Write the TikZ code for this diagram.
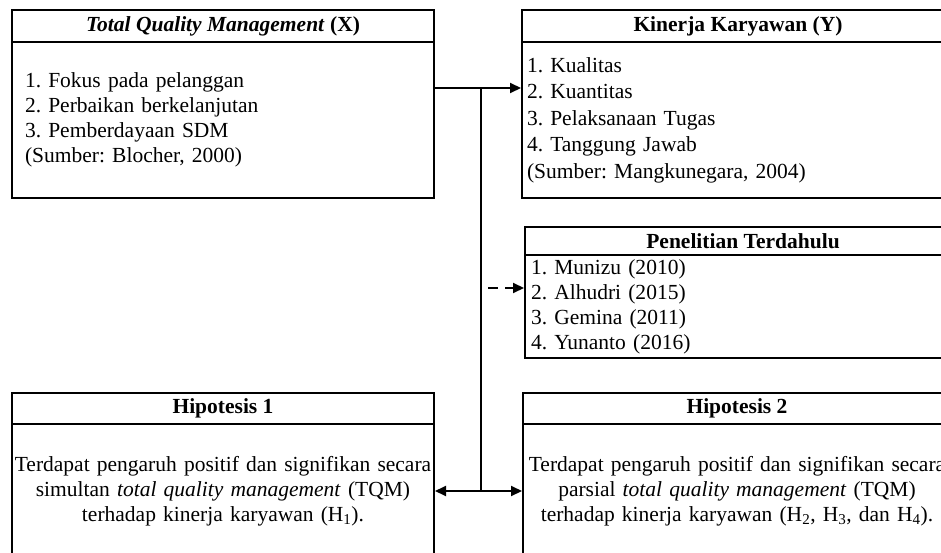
\documentclass[tikz,border=0pt]{standalone}
\usepackage{fontspec}
\setmainfont{Liberation Serif}
\usetikzlibrary{arrows.meta}
\frenchspacing

\begin{document}
\begin{tikzpicture}[x=1pt, y=-1pt, line width=2pt,
    head/.style={draw, minimum height=32pt, inner sep=0pt, font=\fontsize{21.5}{25}\selectfont\bfseries},
    body/.style={draw, inner ysep=0pt, font=\fontsize{21.5}{25}\selectfont},
    link/.style={-{Triangle[length=11pt,width=10pt]}},
    link2/.style={{Triangle[length=11pt,width=10pt]}-{Triangle[length=11pt,width=10pt]}}]
    \clip (0,0) rectangle (941,553);

    % variabel X dan Y
    \node[head, minimum width=422pt] (tqmhead) at (223,26) {\textit{Total Quality Management} (X)};
    \node[body, minimum height=156pt, inner xsep=13pt, text width=396pt, align=left] (tqm) at (223,120)
        {1. Fokus pada pelanggan\\2. Perbaikan berkelanjutan\\3. Pemberdayaan SDM\\(Sumber: Blocher, 2000)};
    \node[head, minimum width=432pt] (kinhead) at (738,26) {Kinerja Karyawan (Y)};
    \node[body, minimum height=156pt, inner xsep=5pt, text width=422pt, align=left,
        font=\fontsize{21.5}{26.5}\selectfont] (kin) at (738,120)
        {1. Kualitas\\2. Kuantitas\\3. Pelaksanaan Tugas\\4. Tanggung Jawab\\(Sumber: Mangkunegara, 2004)};

    % penelitian terdahulu
    \node[head, minimum width=436pt, minimum height=28pt] (penhead) at (743,241) {Penelitian Terdahulu};
    \node[body, minimum height=103pt, inner xsep=6pt, text width=424pt, align=left] (pen) at (743,306.5)
        {1. Munizu (2010)\\2. Alhudri (2015)\\3. Gemina (2011)\\4. Yunanto (2016)};

    % hipotesis
    \node[head, minimum width=422pt, minimum height=31pt] (hip1head) at (223,408.5) {Hipotesis 1};
    \node[body, minimum height=134pt, inner xsep=1pt, text width=420pt, align=center] (hip1) at (223,491)
        {Terdapat pengaruh positif dan signifikan secara\\simultan \textit{total quality management} (TQM)\\terhadap kinerja karyawan (H\textsubscript{1}).};
    \node[head, minimum width=428pt, minimum height=31pt] (hip2head) at (737,408.5) {Hipotesis 2};
    \node[body, minimum height=134pt, inner xsep=1pt, text width=426pt, align=center] (hip2) at (737,491)
        {Terdapat pengaruh positif dan signifikan secara\\parsial \textit{total quality management} (TQM)\\terhadap kinerja karyawan (H\textsubscript{2}, H\textsubscript{3}, dan H\textsubscript{4}).};

    \coordinate (split) at (481,88);
    \coordinate (end) at (481,491);
    \coordinate (dash) at (488,288);

    \draw[link] (tqm.east |- split) -- (kin.west |- split);
    \draw (split) -- (end);
    \draw[link2] (hip1.east |- end) -- (hip2.west |- end);
    \draw[link, dash pattern=on 10pt off 7pt] (dash) -- (pen.west |- dash);
\end{tikzpicture}
\end{document}
